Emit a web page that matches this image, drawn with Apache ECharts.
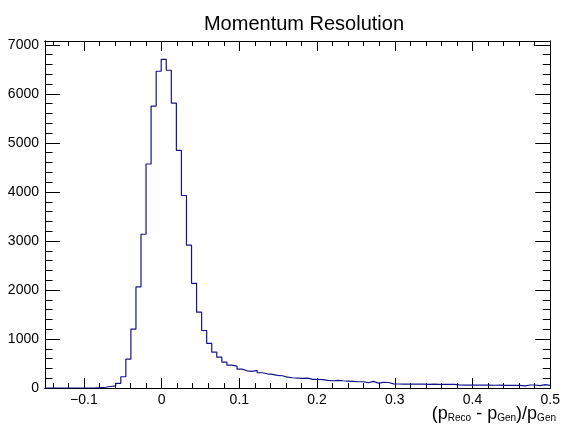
<!DOCTYPE html>
<html>
<head>
<meta charset="utf-8">
<script src="https://cdn.jsdelivr.net/npm/echarts@6/dist/echarts.min.js"></script>
<style>
html,body{margin:0;padding:0;background:#fff;}
#chart{width:563px;height:426px;}
</style>
</head>
<body>
<div id="chart"></div>
<script>
// Histogram definition
const xMin = -0.15;
const xMax = 0.5;
const nBins = 100;
const yMax = 7080;

// Bin contents
const counts = [
  0, 0, 0, 0, 0, 0, 0, 0, 0, 2,
  8, 15, 30, 45, 95, 230, 588, 1203, 2062, 3137,
  4570, 5753, 6463, 6706, 6483, 5814, 4847, 3928, 2914, 2136,
  1548, 1173, 910, 733, 629, 527, 466, 446, 385, 351,
  338, 358, 311, 290, 277, 257, 250, 223, 209, 203,
  196, 203, 176, 176, 169, 155, 148, 155, 148, 142,
  135, 128, 128, 108, 135, 100, 115, 112, 85, 82,
  80, 80, 78, 80, 78, 76, 78, 75, 76, 74,
  75, 62, 60, 60, 58, 60, 57, 58, 56, 57,
  55, 56, 55, 54, 42, 61, 61, 49, 68, 55
];

// Tick labels
const xLabels = [-0.1, 0, 0.1, 0.2, 0.3, 0.4, 0.5];
const yLabels = [0, 1000, 2000, 3000, 4000, 5000, 6000, 7000];
const xMinorStep = 0.02;
const yMinorStep = 200;

const titleText = 'Momentum Resolution';
const axisTitle = '{m|(p}{s|Reco}{m| - p}{s|Gen}{m|)/p}{s|Gen}';

const binWidth = (xMax - xMin) / nBins;
const histData = [];
for (let i = 0; i < nBins; i++) {
  histData.push([xMin + i * binWidth, counts[i]]);
}
histData.push([xMax, counts[nBins - 1]]);

const xMinor = [];
for (let v = -0.14; v < xMax - 1e-9; v += xMinorStep) {
  const r = Math.round(v * 100) / 100;
  if (Math.abs(Math.round(r * 10) / 10 - r) > 1e-9) xMinor.push(r);
}
const yMinor = [];
for (let v = yMinorStep; v < yMax; v += yMinorStep) {
  if (v % 1000 !== 0) yMinor.push(v);
}

const FONT = 'Liberation Sans';
const lineStyle = { color: '#000', width: 1 };

function xAxisDef(pos, ticks, len, labels) {
  return {
    type: 'value', position: pos, min: xMin, max: xMax,
    axisLine: { show: true, onZero: false, lineStyle: lineStyle },
    axisTick: { show: true, inside: true, length: len, customValues: ticks, lineStyle: lineStyle },
    axisLabel: labels ? {
      show: true, customValues: ticks, margin: 5, color: '#000',
      fontFamily: FONT, fontSize: 14,
      formatter: function (v) { return String(Math.round(v * 10) / 10).replace('-', '\u2212'); }
    } : { show: false },
    splitLine: { show: false }, minorTick: { show: false }
  };
}
function yAxisDef(pos, ticks, len, labels) {
  return {
    type: 'value', position: pos, min: 0, max: yMax,
    axisLine: { show: true, onZero: false, lineStyle: lineStyle },
    axisTick: { show: true, inside: true, length: len, customValues: ticks, lineStyle: lineStyle },
    axisLabel: labels ? {
      show: true, customValues: ticks, margin: 6, color: '#000',
      fontFamily: FONT, fontSize: 14,
      formatter: function (v) { return String(Math.round(v)); }
    } : { show: false },
    splitLine: { show: false }, minorTick: { show: false }
  };
}

const chart = echarts.init(document.getElementById('chart'), null, { renderer: 'canvas' });
chart.setOption({
  animation: false,
  backgroundColor: '#fff',
  title: [
    {
      text: titleText, left: 299, top: 9, textAlign: 'center',
      textStyle: { fontFamily: FONT, fontSize: 20, fontWeight: 'normal', color: '#000' }
    },
    {
      text: axisTitle, right: 2, top: 400,
      textStyle: {
        fontFamily: FONT, color: '#000', fontWeight: 'normal',
        rich: {
          m: { fontFamily: FONT, fontSize: 18, fontWeight: 'normal', color: '#000', lineHeight: 18, verticalAlign: 'top' },
          s: { fontFamily: FONT, fontSize: 10, fontWeight: 'normal', color: '#000', lineHeight: 10, padding: [15, 0, 0, 0], verticalAlign: 'bottom' }
        }
      }
    }
  ],
  grid: { left: 45, right: 5, top: 41, bottom: 38, containLabel: false },
  xAxis: [
    xAxisDef('bottom', xLabels, 10, true),
    xAxisDef('bottom', xMinor, 5, false),
    xAxisDef('top', xLabels, 10, false),
    xAxisDef('top', xMinor, 5, false)
  ],
  yAxis: [
    yAxisDef('left', yLabels, 15, true),
    yAxisDef('left', yMinor, 7.5, false),
    yAxisDef('right', yLabels, 15, false),
    yAxisDef('right', yMinor, 7.5, false)
  ],
  series: [{
    type: 'line', xAxisIndex: 0, yAxisIndex: 0,
    step: 'end', data: histData, symbol: 'none',
    lineStyle: { color: '#14148a', width: 1.2 }
  }]
});
</script>
</body>
</html>
